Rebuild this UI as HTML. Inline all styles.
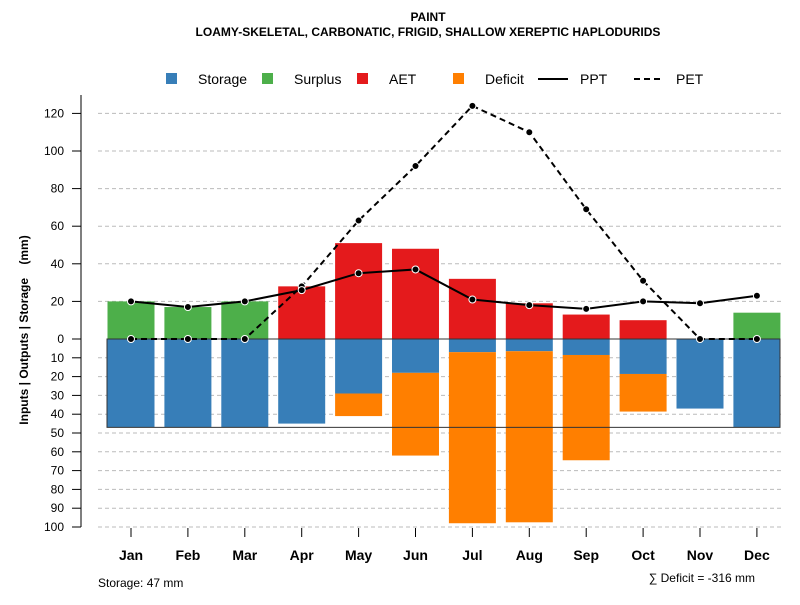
<!DOCTYPE html>
<html><head><meta charset="utf-8"><style>
body{margin:0;background:#fff;font-family:"Liberation Sans",sans-serif}
</style></head><body>
<svg id="c" width="800" height="600" xmlns="http://www.w3.org/2000/svg" font-family="Liberation Sans, sans-serif">
<text x="428" y="21" text-anchor="middle" font-size="12" font-weight="bold">PAINT</text>
<text x="428" y="36" text-anchor="middle" font-size="12" font-weight="bold">LOAMY-SKELETAL, CARBONATIC, FRIGID, SHALLOW XEREPTIC HAPLODURIDS</text>
<g id="grid"></g><g id="bars"></g><g id="lines"></g><g id="axes"></g>
<g font-size="14">
<rect x="166" y="73" width="11" height="11" fill="#377eb8"/><text x="198" y="84">Storage</text>
<rect x="262" y="73" width="11" height="11" fill="#4daf4a"/><text x="294" y="84">Surplus</text>
<rect x="357" y="73" width="11" height="11" fill="#e41a1c"/><text x="389" y="84">AET</text>
<rect x="453" y="73" width="11" height="11" fill="#ff7f00"/><text x="485" y="84">Deficit</text>
<line x1="538" y1="79" x2="568" y2="79" stroke="#000" stroke-width="2"/><text x="580" y="84">PPT</text>
<line x1="634" y1="79" x2="664" y2="79" stroke="#000" stroke-width="2" stroke-dasharray="6,4"/><text x="676" y="84">PET</text>
</g>
<text transform="translate(28,330) rotate(-90)" text-anchor="middle" font-size="12" font-weight="bold">Inputs | Outputs | Storage&#160;&#160;&#160;&#160;(mm)</text>
<text x="98" y="587" font-size="12">Storage: 47 mm</text>
<text x="755" y="582" text-anchor="end" font-size="12">∑ Deficit = -316 mm</text>
</svg>
<script>
const months=["Jan","Feb","Mar","Apr","May","Jun","Jul","Aug","Sep","Oct","Nov","Dec"];
const storage=[47,47,47,45,29,18,7,6.5,8.5,18.6,37,47];
const deficit=[0,0,0,0,12,44,91,91,56,20,0,0];
const surplus=[20,17,20,0,0,0,0,0,0,0,0,14];
const aet=[0,0,0,28,51,48,32,19,13,10,0,0];
const ppt=[20,17,20,26,35,37,21,18,16,20,19,23];
const pet=[0,0,0,28,63,92,124,110,69,31,0,0];
const upTicks=[0,20,40,60,80,100,120];
const downTicks=[10,20,30,40,50,60,70,80,90,100];
const maxStorage=47;
const NS="http://www.w3.org/2000/svg";
const y0=339,k=1.88;
const yUp=v=>y0-v*k, yDn=v=>y0+v*k;
const xC=i=>131+i*56.9;
const bw=47;
function mk(p,t,a){const e=document.createElementNS(NS,t);for(const q in a)e.setAttribute(q,a[q]);document.getElementById(p).appendChild(e);return e;}
upTicks.concat(downTicks.map(v=>-v)).forEach(v=>{if(v===0)return;const y=v>0?yUp(v):yDn(-v);
const l=mk("grid","line",{x1:98,x2:782,y1:y,y2:y,stroke:"#bbb","stroke-dasharray":"4,3"});

});
months.forEach((m,i)=>{const x=xC(i)-bw/2;
let r=mk("bars","rect",{x:x,y:y0,width:bw,height:storage[i]*k,fill:"#377eb8"});


if(deficit[i]>0){r=mk("bars","rect",{x:x,y:yDn(storage[i]),width:bw,height:deficit[i]*k,fill:"#ff7f00"});

}
if(surplus[i]>0){r=mk("bars","rect",{x:x,y:yUp(surplus[i]),width:bw,height:surplus[i]*k,fill:"#4daf4a"});

}
if(aet[i]>0){r=mk("bars","rect",{x:x,y:yUp(aet[i]),width:bw,height:aet[i]*k,fill:"#e41a1c"});

}
});
const box=mk("bars","rect",{x:107,y:y0,width:673,height:maxStorage*k,fill:"none",stroke:"#333","stroke-width":1});


function series(arr,name,dash){const pts=arr.map((v,i)=>xC(i)+","+yUp(v)).join(" ");
const pl=mk("lines","polyline",{points:pts,fill:"none",stroke:"#000","stroke-width":2,"stroke-dasharray":dash});


arr.forEach((v,i)=>{const c=mk("lines","circle",{cx:xC(i),cy:yUp(v),r:3.5,fill:"#000",stroke:"#fff","stroke-width":1});

});}
series(pet,"pet","6,4");series(ppt,"ppt","none");
const ax=mk("axes","line",{x1:81,x2:81,y1:95,y2:527,stroke:"#555","stroke-width":1.5});


upTicks.forEach(v=>{const y=yUp(v);mk("axes","line",{x1:72,x2:81,y1:y,y2:y,stroke:"#000"});
const t=mk("axes","text",{x:64,y:y+4,"text-anchor":"end","font-size":12});t.textContent=v;

});
downTicks.forEach(v=>{const y=yDn(v);mk("axes","line",{x1:72,x2:81,y1:y,y2:y,stroke:"#000"});
const t=mk("axes","text",{x:64,y:y+4,"text-anchor":"end","font-size":12});t.textContent=v;

});
months.forEach((m,i)=>{mk("axes","line",{x1:xC(i),x2:xC(i),y1:528,y2:537,stroke:"#000"});
const t=mk("axes","text",{x:xC(i),y:560,"text-anchor":"middle","font-size":14,"font-weight":"bold"});t.textContent=m;

});
</script>
</body></html>
